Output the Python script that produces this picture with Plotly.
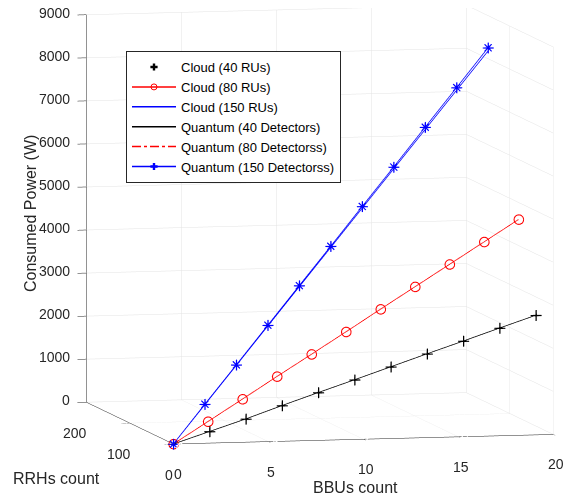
import plotly.graph_objects as go

# ---- data ----
bbus = [0, 2, 4, 6, 8, 10, 12, 14, 16, 18, 20]
rrhs_40 = [0, 4, 8, 12, 16, 20, 24, 28, 32, 36, 40]
rrhs_80 = [0, 8, 16, 24, 32, 40, 48, 56, 64, 72, 80]
rrhs_150 = [0, 15, 30, 45, 60, 75, 90, 105, 120, 135, 150]

cloud_40 = [0, 250, 500, 770, 1030, 1285, 1545, 1805, 2060, 2320, 2575]
cloud_80 = [0, 460, 920, 1385, 1840, 2300, 2765, 3225, 3685, 4145, 4605]
cloud_150 = [0, 818, 1636, 2454, 3272, 4090, 4908, 5726, 6544, 7362, 8180]
quantum_40 = [0, 250, 500, 770, 1030, 1285, 1545, 1805, 2060, 2320, 2575]
quantum_80 = [0, 460, 920, 1385, 1840, 2300, 2765, 3225, 3685, 4145, 4605]
quantum_150 = [0, 830, 1650, 2475, 3300, 4120, 4950, 5770, 6600, 7425, 8255]

x_ticks = [0, 5, 10, 15, 20]
y_ticks = [0, 100, 200]
z_ticks = [0, 1000, 2000, 3000, 4000, 5000, 6000, 7000, 8000, 9000]

FONT = "Liberation Sans, Arial, sans-serif"
AX = "#262626"

fig = go.Figure()
fig.add_trace(go.Scatter3d(x=bbus, y=rrhs_40, z=cloud_40, mode="markers",
                           marker=dict(symbol="cross", size=6, color="black"),
                           name="Cloud (40 RUs)"))
fig.add_trace(go.Scatter3d(x=bbus, y=rrhs_80, z=cloud_80, mode="lines+markers",
                           line=dict(color="red", width=1.5),
                           marker=dict(symbol="circle-open", size=6, color="red"),
                           name="Cloud (80 RUs)"))
fig.add_trace(go.Scatter3d(x=bbus, y=rrhs_150, z=cloud_150, mode="lines",
                           line=dict(color="blue", width=1.5),
                           name="Cloud (150 RUs)"))
fig.add_trace(go.Scatter3d(x=bbus, y=rrhs_40, z=quantum_40, mode="lines",
                           line=dict(color="black", width=1.5),
                           name="Quantum (40 Detectors)"))
fig.add_trace(go.Scatter3d(x=bbus, y=rrhs_80, z=quantum_80, mode="lines",
                           line=dict(color="red", width=1.5, dash="dashdot"),
                           name="Quantum (80 Detectorss)"))
fig.add_trace(go.Scatter3d(x=bbus, y=rrhs_150, z=quantum_150, mode="lines+markers",
                           line=dict(color="blue", width=1.5),
                           marker=dict(symbol="cross", size=6, color="blue"),
                           name="Quantum (150 Detectorss)"))
# diagonal strokes that turn the "+" into an asterisk
fig.add_trace(go.Scatter3d(x=bbus, y=rrhs_150, z=quantum_150, mode="text",
                           text=["×"] * len(bbus), textposition="middle center",
                           textfont=dict(family="DejaVu Sans", size=14, color="blue"),
                           showlegend=False, hoverinfo="skip"))

axis_common = dict(showbackground=False, gridcolor="#e3e3e3", gridwidth=1,
                   showline=True, linecolor=AX, linewidth=1,
                   ticks="outside", tickcolor=AX, ticklen=9,
                   showticklabels=True,
                   tickfont=dict(family=FONT, size=12, color="rgba(0,0,0,0)"),
                   showspikes=False, zeroline=False, title=dict(text=""))

# tick labels, placed MATLAB-style next to their ticks
tick_font = dict(family=FONT, size=14, color=AX)
scene_ann = []
for v in x_ticks:
    scene_ann.append(dict(x=v, y=0, z=0, text=str(v), showarrow=False,
                          xshift=(5 if v == 0 else 3), yshift=-30, font=tick_font))
for v in y_ticks:
    scene_ann.append(dict(x=0, y=v, z=0, text=str(v), showarrow=False,
                          xshift=(-4 if v == 0 else -11), yshift=-31, font=tick_font))
for v in z_ticks:
    scene_ann.append(dict(x=0, y=200, z=v, text=str(v), showarrow=False,
                          xanchor="right", xshift=-14, yshift=2, font=tick_font))

r = 2.0
d = (-0.2219, -0.9689, 0.11)
c = (-0.0952, 0.0068, -0.124)
s = 1.575

fig.update_layout(
    width=577, height=495,
    margin=dict(l=0, r=0, t=0, b=0),
    paper_bgcolor="white",
    font=dict(family=FONT, size=12, color=AX),
    scene=dict(
        xaxis=dict(range=[0, 20], tickvals=x_ticks, **axis_common),
        yaxis=dict(range=[0, 200], tickvals=y_ticks, **axis_common),
        zaxis=dict(range=[0, 9000], tickvals=z_ticks, **axis_common),
        aspectmode="manual",
        aspectratio=dict(x=s, y=s, z=s),
        camera=dict(eye=dict(x=c[0] + d[0] * r, y=c[1] + d[1] * r, z=c[2] + d[2] * r),
                    center=dict(x=c[0], y=c[1], z=c[2]),
                    up=dict(x=0, y=0, z=1),
                    projection=dict(type="orthographic")),
        domain=dict(x=[0, 1], y=[0, 1]),
        annotations=scene_ann,
    ),
    legend=dict(x=0.2045, y=0.913, xanchor="left", yanchor="top",
                bgcolor="white", bordercolor=AX, borderwidth=1, itemwidth=44,
                font=dict(family=FONT, size=13, color="black")),
)
fig.add_annotation(text="Consumed Power (W)", x=22 / 577, y=1 - 206 / 495, xref="paper", yref="paper",
                   xanchor="center", yanchor="middle",
                   showarrow=False, textangle=-90, font=dict(size=16, family=FONT, color=AX))
fig.add_annotation(text="RRHs count", x=48 / 577, y=1 - 470 / 495, xref="paper", yref="paper",
                   xanchor="center", yanchor="middle",
                   showarrow=False, font=dict(size=16, family=FONT, color=AX))
fig.add_annotation(text="BBUs count", x=347 / 577, y=1 - 479 / 495, xref="paper", yref="paper",
                   xanchor="center", yanchor="middle",
                   showarrow=False, font=dict(size=16, family=FONT, color=AX))

fig.write_html("out.html")
